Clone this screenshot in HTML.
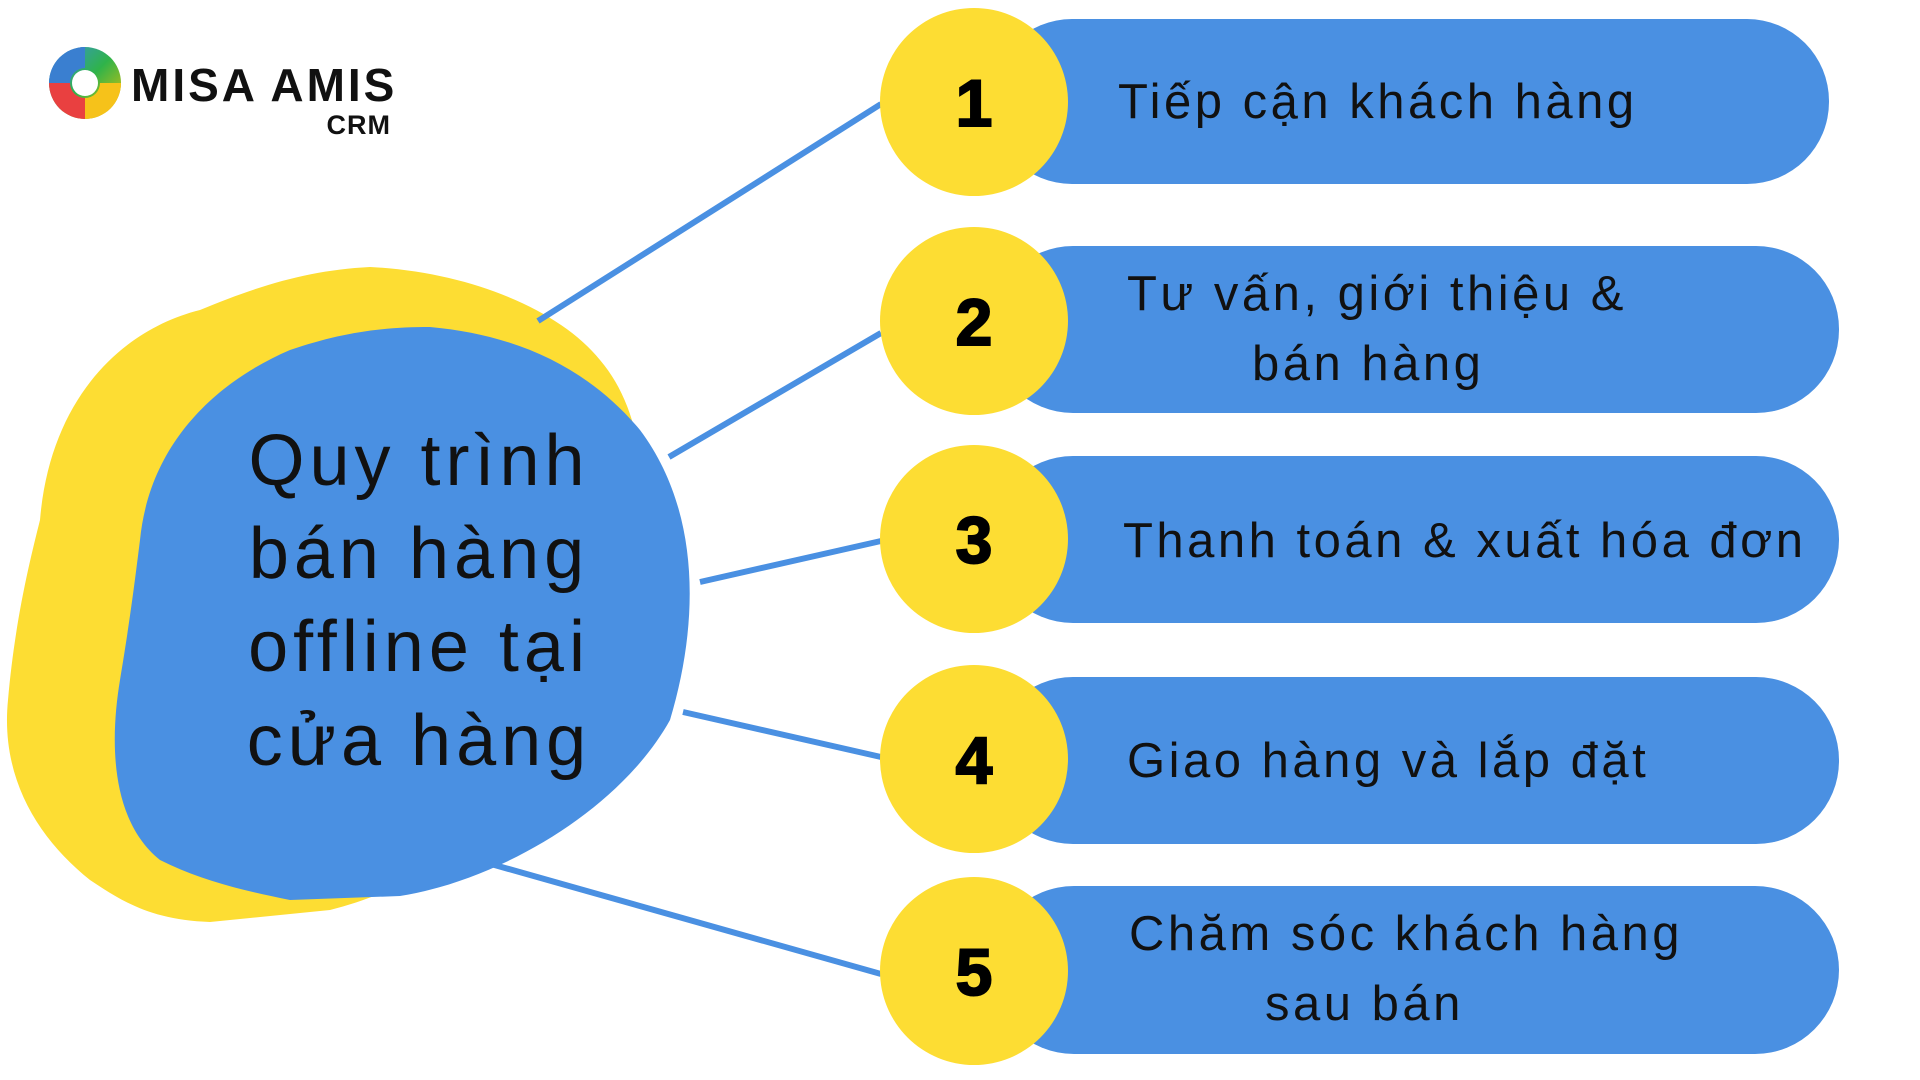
<!DOCTYPE html>
<html><head><meta charset="utf-8"><style>
html,body{margin:0;padding:0;background:#fff}
body{width:1920px;height:1080px;position:relative;overflow:hidden;font-family:"Liberation Sans",sans-serif}
</style></head><body>
<svg width="1920" height="1080" style="position:absolute;left:0;top:0">
<defs>
<linearGradient id="g1" x1="0" y1="0" x2="1" y2="1"><stop offset="0" stop-color="#3b8fe0"/><stop offset="0.5" stop-color="#2fb34a"/><stop offset="1" stop-color="#f5c400"/></linearGradient>
</defs>
<circle cx="85" cy="83" r="36" fill="url(#g1)"/>
<path d="M85,47 A36,36 0 0,0 49,83 L70,83 A15,15 0 0,1 85,68Z" fill="#3a7fd0"/>
<path d="M49,83 A36,36 0 0,0 85,119 L85,98 A15,15 0 0,1 70,83Z" fill="#e94040"/>
<path d="M85,119 A36,36 0 0,0 121,83 L100,83 A15,15 0 0,1 85,98Z" fill="#f6c21a"/>
<circle cx="85" cy="83" r="13" fill="#fff"/>
<text x="131" y="101" font-family="Liberation Sans" font-weight="bold" font-size="46" letter-spacing="3" fill="#111">MISA AMIS</text>
<text x="391" y="134" text-anchor="end" font-family="Liberation Sans" font-weight="bold" font-size="27" letter-spacing="1" fill="#111">CRM</text>
<path d="M370,267 C470,272 560,310 600,360 C660,430 650,560 620,660 C580,780 450,880 330,910 L210,922 C150,920 120,900 90,880 C40,840 0,780 8,700 C15,620 30,560 40,520 C50,400 120,330 200,310 C260,285 310,270 370,267Z" fill="#fddd33"/>
<path d="M430,327 C520,335 590,370 640,430 C700,510 700,620 670,720 C620,810 500,880 400,896 L290,900 C240,890 200,880 160,860 C110,820 110,740 120,680 C130,620 135,580 140,540 C150,440 220,380 290,350 C340,333 380,327 430,327Z" fill="#4a90e2"/>
<g stroke="#4a90e2" stroke-width="6">
<line x1="538" y1="321" x2="881" y2="104"/>
<line x1="669" y1="457" x2="881" y2="333"/>
<line x1="700" y1="582" x2="881" y2="541"/>
<line x1="683" y1="712" x2="881" y2="757"/>
<line x1="491" y1="864" x2="881" y2="974"/>
</g>
<g fill="#4a90e2">
<rect x="990" y="19" width="839" height="165" rx="82"/>
<rect x="990" y="246" width="849" height="167" rx="83"/>
<rect x="990" y="456" width="849" height="167" rx="83"/>
<rect x="990" y="677" width="849" height="167" rx="83"/>
<rect x="990" y="886" width="849" height="168" rx="84"/>
</g>
<g fill="#fddd33">
<circle cx="974" cy="102" r="94"/>
<circle cx="974" cy="321" r="94"/>
<circle cx="974" cy="539" r="94"/>
<circle cx="974" cy="759" r="94"/>
<circle cx="974" cy="971" r="94"/>
</g>
<g font-family="Liberation Sans" font-weight="bold" font-size="66" fill="#000" stroke="#000" stroke-width="2" text-anchor="middle">
<text x="974" y="126">1</text>
<text x="974" y="345">2</text>
<text x="974" y="563">3</text>
<text x="974" y="783">4</text>
<text x="974" y="995">5</text>
</g>
<g font-family="Liberation Sans" font-size="72" fill="#111" text-anchor="middle" letter-spacing="5">
<text x="419" y="485">Quy trình</text>
<text x="419" y="578">bán hàng</text>
<text x="419" y="671">offline tại</text>
<text x="419" y="765">cửa hàng</text>
</g>
<g font-family="Liberation Sans" font-size="49" fill="#111" letter-spacing="3.5">
<text x="1118" y="118">Tiếp cận khách hàng</text>
<text x="1127" y="310">Tư vấn, giới thiệu &amp;</text>
<text x="1252" y="380">bán hàng</text>
<text x="1123" y="557">Thanh toán &amp; xuất hóa đơn</text>
<text x="1127" y="777">Giao hàng và lắp đặt</text>
<text x="1129" y="950">Chăm sóc khách hàng</text>
<text x="1265" y="1020">sau bán</text>
</g>
</svg>
</body></html>
